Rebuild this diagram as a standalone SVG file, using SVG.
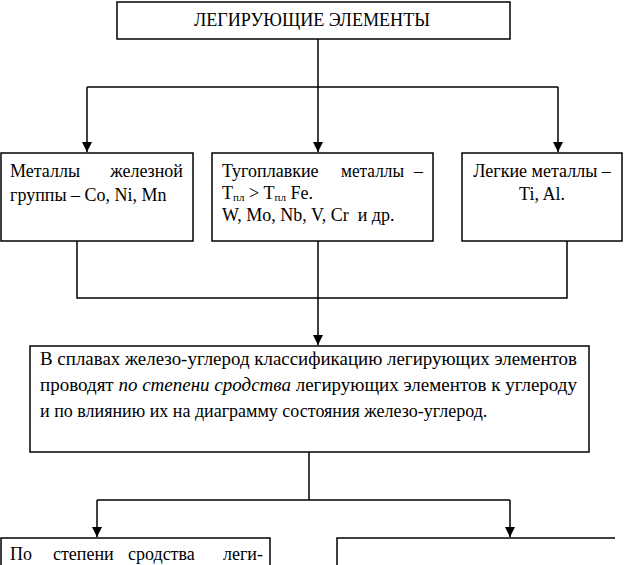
<svg xmlns="http://www.w3.org/2000/svg" width="626" height="565" viewBox="0 0 626 565">
<defs>
<marker id="ah" markerWidth="12" markerHeight="12" refX="10" refY="5" orient="auto" markerUnits="userSpaceOnUse">
<path d="M0,0 L10,5 L0,10 Z" fill="#000"/>
</marker>
<style>
.box{fill:#fff;stroke:#000;stroke-width:1.5}
.ln{fill:none;stroke:#000;stroke-width:1.5}
.t{font-family:"Liberation Serif","Times New Roman",serif;font-size:18px;fill:#000}
.s{font-size:11px}
.i{font-style:italic}
</style>
</defs>
<rect width="626" height="565" fill="#fff"/>
<g id="connectors">
<path class="ln" d="M318,39 V87"/>
<path class="ln" d="M87,87 H558"/>
<path class="ln" d="M87,87 V152" marker-end="url(#ah)"/>
<path class="ln" d="M318,87 V152" marker-end="url(#ah)"/>
<path class="ln" d="M558,87 V152" marker-end="url(#ah)"/>
<path class="ln" d="M77,241 V298 H567 V241"/>
<path class="ln" d="M318,241 V345" marker-end="url(#ah)"/>
<path class="ln" d="M309,452 V500"/>
<path class="ln" d="M97,500 H510"/>
<path class="ln" d="M97,500 V537" marker-end="url(#ah)"/>
<path class="ln" d="M510,500 V537" marker-end="url(#ah)"/>
</g>
<g id="root">
<rect class="box" x="117" y="2" width="393" height="37"/>
<text class="t" x="312" y="26" text-anchor="middle" textLength="236" lengthAdjust="spacingAndGlyphs">ЛЕГИРУЮЩИЕ ЭЛЕМЕНТЫ</text>
</g>
<g id="iron-group">
<rect class="box" x="1" y="153" width="192" height="88"/>
<text class="t" x="10" y="177">Металлы</text>
<text class="t" x="183" y="177" text-anchor="end">железной</text>
<text class="t" x="10" y="201">группы – Co, Ni, Mn</text>
</g>
<g id="refractory">
<rect class="box" x="212" y="153" width="221" height="88"/>
<text class="t" x="222" y="177">Тугоплавкие</text>
<text class="t" x="341" y="177" textLength="63" lengthAdjust="spacingAndGlyphs">металлы</text>
<text class="t" x="423" y="177" text-anchor="end">–</text>
<text class="t" x="222" y="199">T<tspan class="s" dy="2">пл</tspan><tspan dy="-2"> &gt; T</tspan><tspan class="s" dy="2">пл</tspan><tspan dy="-2"> Fe.</tspan></text>
<text class="t" x="222" y="221" xml:space="preserve">W, Mo, Nb, V, Cr  и др.</text>
</g>
<g id="light">
<rect class="box" x="462" y="153" width="160" height="88"/>
<text class="t" x="542" y="177" text-anchor="middle">Легкие металлы –</text>
<text class="t" x="542" y="200" text-anchor="middle">Ti, Al.</text>
</g>
<g id="classification">
<rect class="box" x="30" y="346" width="559" height="106"/>
<text class="t" x="40" y="365" textLength="537" lengthAdjust="spacingAndGlyphs">В сплавах железо-углерод классификацию легирующих элементов</text>
<text class="t" x="40" y="391" textLength="537" lengthAdjust="spacingAndGlyphs">проводят <tspan class="i">по степени сродства</tspan> легирующих элементов к углероду</text>
<text class="t" x="40" y="417">и по влиянию их на диаграмму состояния железо-углерод.</text>
</g>
<g id="affinity">
<path class="ln" d="M1,566 V538 H270 V566" fill="#fff"/>
<text class="t" x="10" y="560">По</text>
<text class="t" x="53" y="560">степени</text>
<text class="t" x="128" y="560">сродства</text>
<text class="t" x="263" y="560" text-anchor="end">леги-</text>
</g>
<g id="diagram-influence">
<path class="ln" d="M337,566 V538 H615"/>
</g>
</svg>
